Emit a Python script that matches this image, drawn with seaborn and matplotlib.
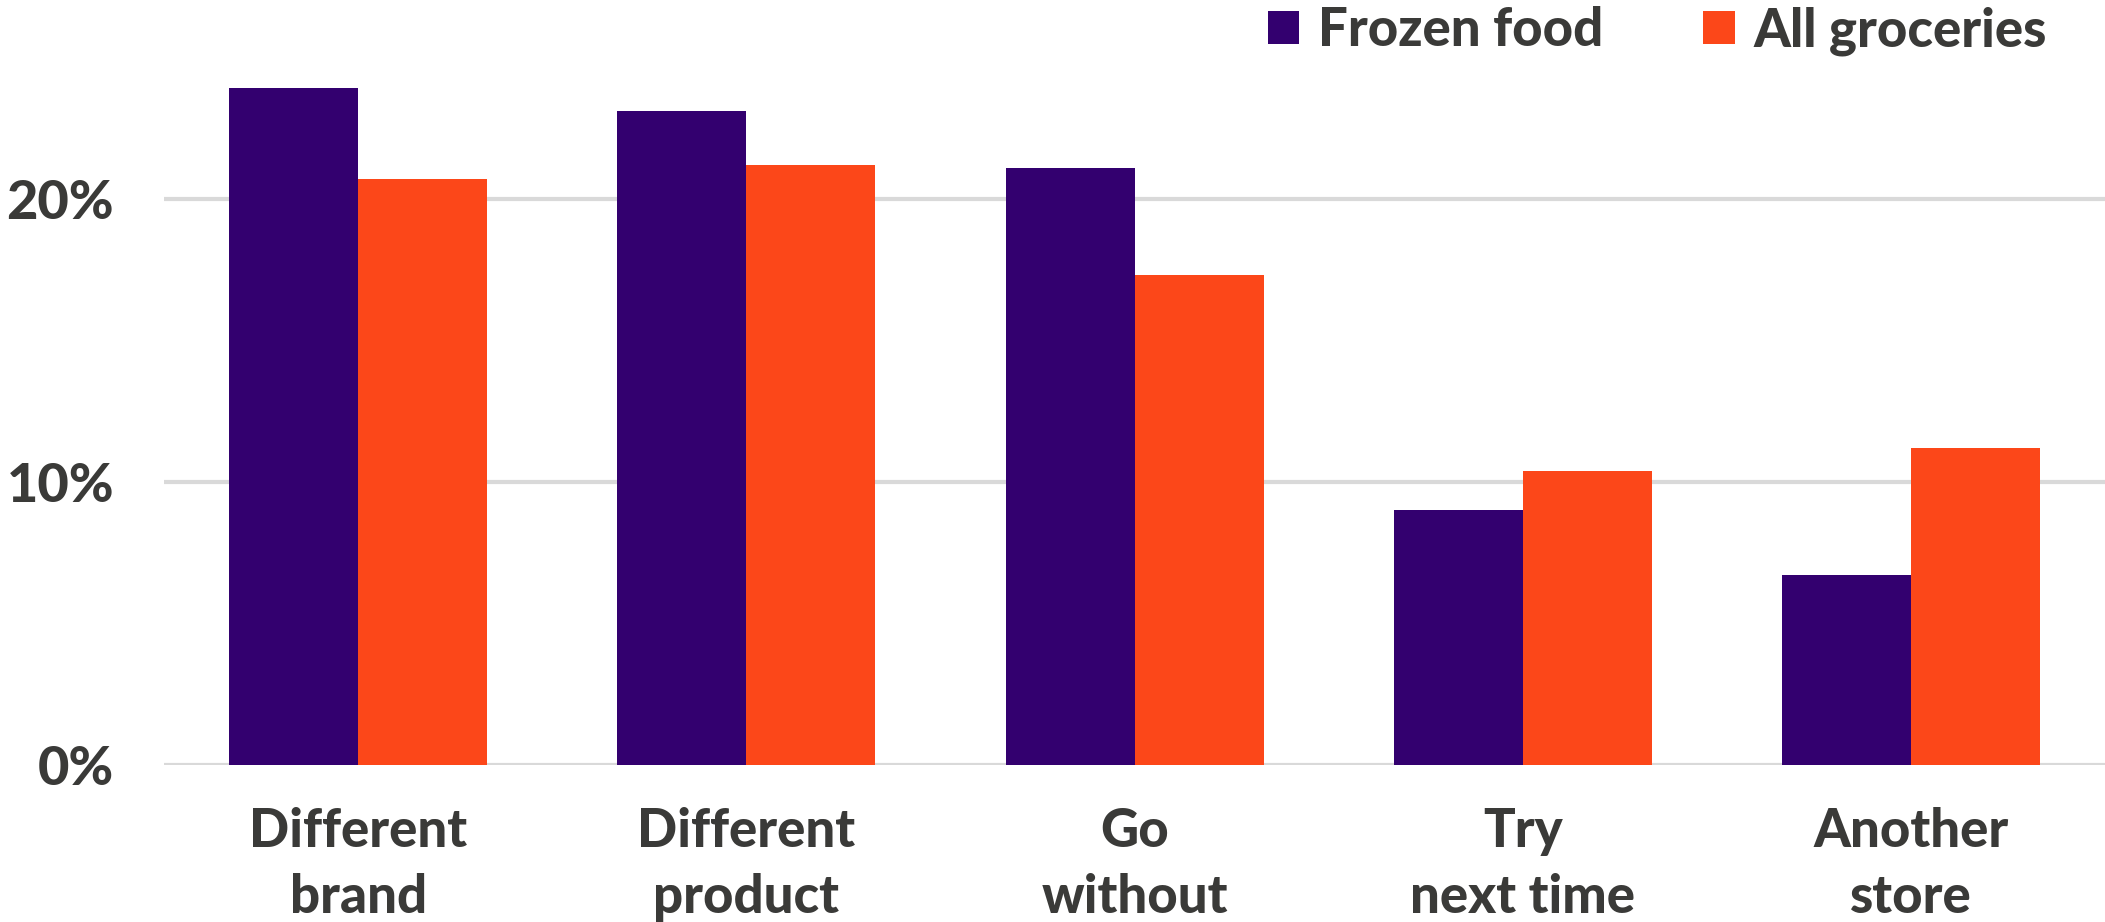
import numpy as np
import pandas as pd
import matplotlib
matplotlib.use("Agg")
import matplotlib.pyplot as plt
import matplotlib.ticker as mticker
import seaborn as sns

# values (percent of shoppers)
categories = ["Different\nbrand", "Different\nproduct", "Go\nwithout",
              "Try\nnext time", "Another\nstore"]
series = ["Frozen food", "All groceries"]
frozen_food = [23.9, 23.1, 21.1, 9.0, 6.7]
all_groceries = [20.7, 21.2, 17.3, 10.4, 11.2]
y_ticks = [0, 10, 20]

PURPLE = "#33006F"
ORANGE = "#FC4719"
TEXT = "#3a3a38"
GRID = "#d9d9d9"
WEIGHT = "black"

sns.set_theme(style="white")
plt.rcParams["font.family"] = ["Lato", "DejaVu Sans"]
plt.rcParams["font.weight"] = WEIGHT

df = pd.DataFrame({
    "category": categories * 2,
    "series": [series[0]] * len(categories) + [series[1]] * len(categories),
    "value": frozen_food + all_groceries,
})

fig = plt.figure(figsize=(21.05, 9.22), dpi=100)
ax = fig.add_axes([0.078, 0.170, 0.922, 0.768])

sns.barplot(data=df, x="category", y="value", hue="series", order=categories,
            hue_order=series, palette=[PURPLE, ORANGE], width=0.665, gap=0,
            saturation=1, linewidth=0, ax=ax)

ax.set_xlim(-0.5, 4.5)
ax.set_ylim(0, 25)
ax.set_yticks(y_ticks)
ax.yaxis.set_major_formatter(mticker.FuncFormatter(lambda v, _: f"{v:.0f}%"))
ax.grid(axis="y", color=GRID, linewidth=3)
ax.set_axisbelow(True)
for sp in ax.spines.values():
    sp.set_visible(False)
ax.set_xlabel("")
ax.set_ylabel("")
ax.tick_params(axis="y", length=0, pad=36, labelsize=39, labelcolor=TEXT)
ax.tick_params(axis="x", length=0, pad=30, labelsize=38, labelcolor=TEXT)
for lab in ax.get_xticklabels():
    lab.set_fontweight(WEIGHT)
    lab.set_linespacing(1.42)
for lab in ax.get_yticklabels():
    lab.set_fontweight(WEIGHT)

handles, labels = ax.get_legend_handles_labels()
ax.legend(handles, labels, loc="upper right", bbox_to_anchor=(0.995, 1.045),
          bbox_transform=fig.transFigure, ncol=2, frameon=False,
          handlelength=0.6, handleheight=0.6, handletextpad=0.35,
          columnspacing=1.9, prop={"size": 38, "weight": WEIGHT},
          labelcolor=TEXT)

fig.savefig("out.png", dpi=100)
